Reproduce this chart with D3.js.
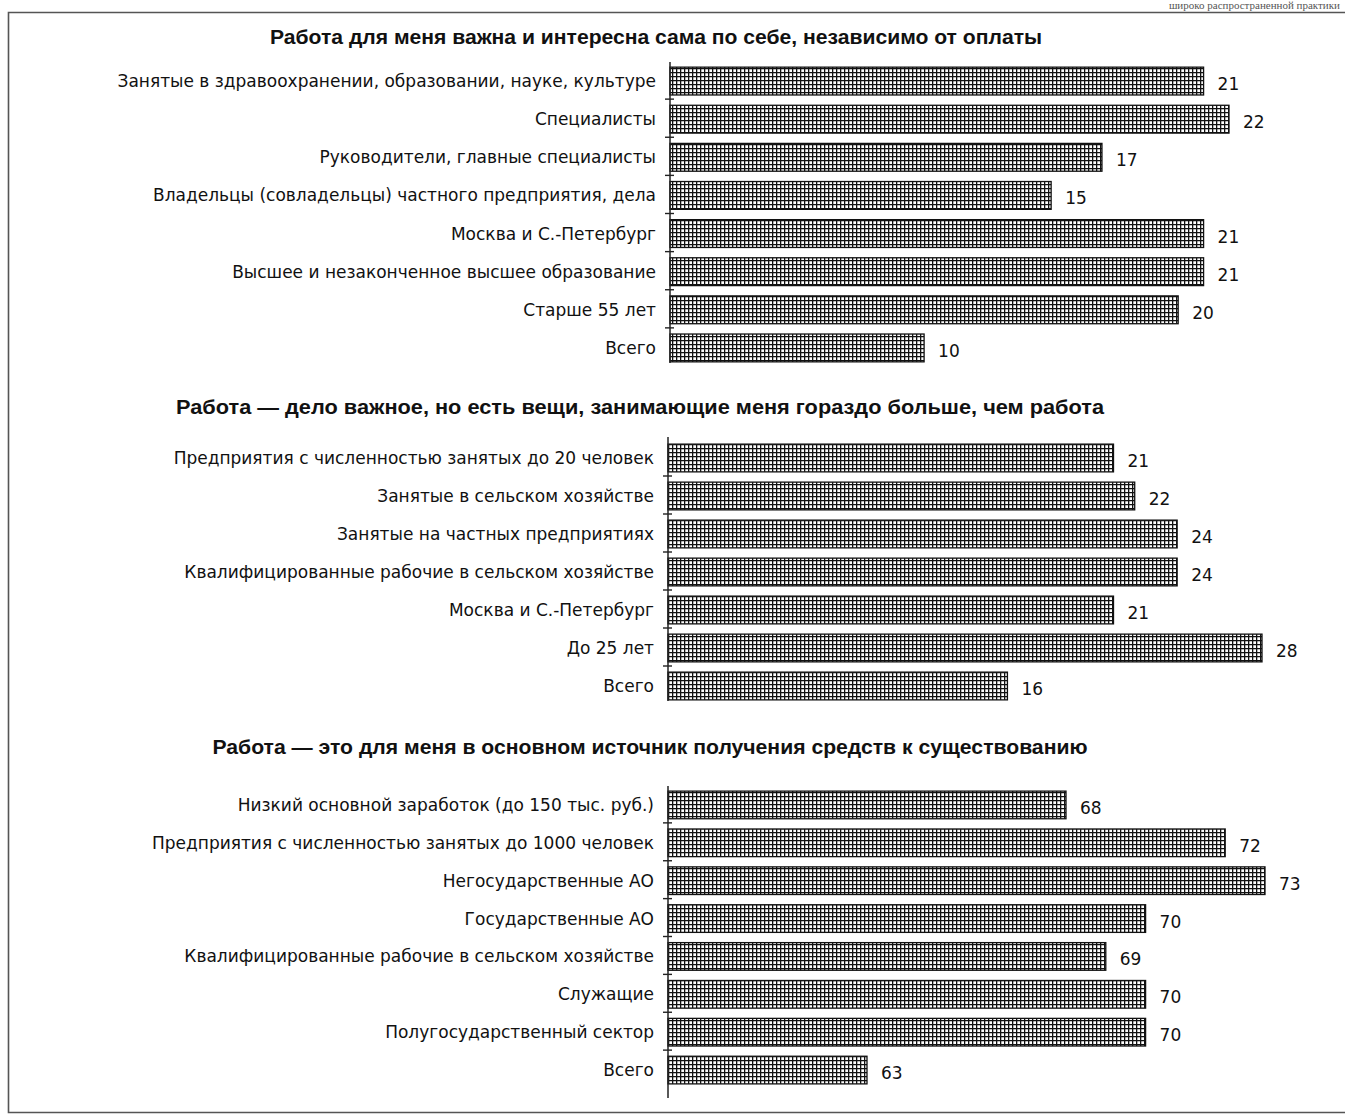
<!DOCTYPE html>
<html><head><meta charset="utf-8">
<script src="https://cdn.jsdelivr.net/npm/d3@7"></script>
<style>
html,body{margin:0;padding:0;background:#fff;}
svg{display:block;}
</style></head>
<body>
<script>
// ---- DATA ----
const title1 = "Работа для меня важна и интересна сама по себе, независимо от оплаты";
const categories1 = [
  "Занятые в здравоохранении, образовании, науке, культуре",
  "Специалисты",
  "Руководители, главные специалисты",
  "Владельцы (совладельцы) частного предприятия, дела",
  "Москва и С.-Петербург",
  "Высшее и незаконченное высшее образование",
  "Старше 55 лет",
  "Всего"
];
const values1 = [21, 22, 17, 15, 21, 21, 20, 10];

const title2 = "Работа — дело важное, но есть вещи, занимающие меня гораздо больше, чем работа";
const categories2 = [
  "Предприятия с численностью занятых до 20 человек",
  "Занятые в сельском хозяйстве",
  "Занятые на частных предприятиях",
  "Квалифицированные рабочие в сельском хозяйстве",
  "Москва и С.-Петербург",
  "До 25 лет",
  "Всего"
];
const values2 = [21, 22, 24, 24, 21, 28, 16];

const title3 = "Работа — это для меня в основном источник получения средств к существованию";
const categories3 = [
  "Низкий основной заработок (до 150 тыс. руб.)",
  "Предприятия с численностью занятых до 1000 человек",
  "Негосударственные АО",
  "Государственные АО",
  "Квалифицированные рабочие в сельском хозяйстве",
  "Служащие",
  "Полугосударственный сектор",
  "Всего"
];
const values3 = [68, 72, 73, 70, 69, 70, 70, 63];

const headerFragment = "широко распространенной практики";

// ---- DRAWING ----
const W = 1345, H = 1115;
const svg = d3.select("body").append("svg").attr("width", W).attr("height", H);

const defs = svg.append("defs");
const pat = defs.append("pattern").attr("id", "grid")
  .attr("patternUnits", "userSpaceOnUse").attr("width", 4).attr("height", 4);
pat.append("rect").attr("width", 4).attr("height", 4).attr("fill", "#fff");
pat.append("path").attr("d", "M0,0.6H4M0.6,0V4")
  .attr("stroke", "#111").attr("stroke-width", 1.4).attr("fill", "none");

// header text of the page above (fragment)
svg.append("text").attr("x", 1340).attr("y", 9)
  .attr("text-anchor", "end")
  .attr("font-family", "'Liberation Serif', serif").attr("font-size", 11)
  .attr("fill", "#555").text(headerFragment);

// frame
svg.append("path").attr("d", "M1352,12.5H8.5V1112.5H1352")
  .attr("fill", "none").attr("stroke", "#555").attr("stroke-width", 1.6);

const labelFont = "'DejaVu Sans', Verdana, sans-serif";
const titleFont = "'Liberation Sans', Arial, sans-serif";

function panel(cfg) {
  const g = svg.append("g");
  const x = d3.scaleLinear().domain(cfg.domain).range([cfg.axisX, cfg.xEnd]);
  const y = d3.scaleBand().domain(cfg.categories).range(cfg.yRange)
    .paddingInner(0.27).paddingOuter(0.135);

  g.append("text").attr("x", cfg.titleX).attr("y", cfg.titleY)
    .attr("text-anchor", "middle").attr("font-family", titleFont)
    .attr("font-weight", "bold").attr("font-size", 21).attr("fill", "#111")
    .attr("textLength", cfg.titleW).attr("lengthAdjust", "spacingAndGlyphs")
    .text(cfg.title);

  const data = cfg.categories.map((c, i) => ({c, v: cfg.values[i]}));

  g.selectAll("rect.bar").data(data).join("rect").attr("class", "bar")
    .attr("x", cfg.axisX).attr("y", d => y(d.c))
    .attr("width", d => x(d.v) - cfg.axisX).attr("height", y.bandwidth())
    .attr("fill", "url(#grid)").attr("stroke", "#111").attr("stroke-width", 1.3);

  // axis line
  g.append("line").attr("x1", cfg.axisX).attr("x2", cfg.axisX)
    .attr("y1", cfg.yRange[0] + cfg.axisTop).attr("y2", cfg.yRange[1] + cfg.axisBottom)
    .attr("stroke", "#222").attr("stroke-width", 1.5);

  // ticks between bars
  const step = y.step();
  d3.range(1, cfg.categories.length).forEach(i => {
    const yy = cfg.yRange[0] + step * i - 1;
    g.append("line").attr("x1", cfg.axisX - 5).attr("x2", cfg.axisX + 4)
      .attr("y1", yy).attr("y2", yy).attr("stroke", "#222").attr("stroke-width", 1.4);
  });

  g.selectAll("text.cat").data(data).join("text").attr("class", "cat")
    .attr("x", cfg.axisX - 14).attr("y", d => y(d.c) + y.bandwidth() / 2 + 6)
    .attr("text-anchor", "end").attr("font-family", labelFont)
    .attr("font-size", 17).attr("fill", "#111").text(d => d.c);

  g.selectAll("text.val").data(data).join("text").attr("class", "val")
    .attr("x", d => x(d.v) + 14).attr("y", d => y(d.c) + y.bandwidth() / 2 + 9)
    .attr("font-family", labelFont).attr("font-size", 17).attr("fill", "#111")
    .text(d => d.v);
}

panel({title: title1, categories: categories1, values: values1,
  domain: [0, 22], axisX: 670, xEnd: 1229, yRange: [62, 367],
  titleX: 656, titleY: 44, titleW: 772, axisTop: 0, axisBottom: -4});
panel({title: title2, categories: categories2, values: values2,
  domain: [0, 28], axisX: 668, xEnd: 1262, yRange: [439, 705],
  titleX: 640, titleY: 414, titleW: 928, axisTop: -2, axisBottom: -4});
panel({title: title3, categories: categories3, values: values3,
  domain: [58, 73], axisX: 668, xEnd: 1265, yRange: [786, 1089],
  titleX: 650, titleY: 754, titleW: 875, axisTop: 0, axisBottom: 9});
</script>
</body></html>
